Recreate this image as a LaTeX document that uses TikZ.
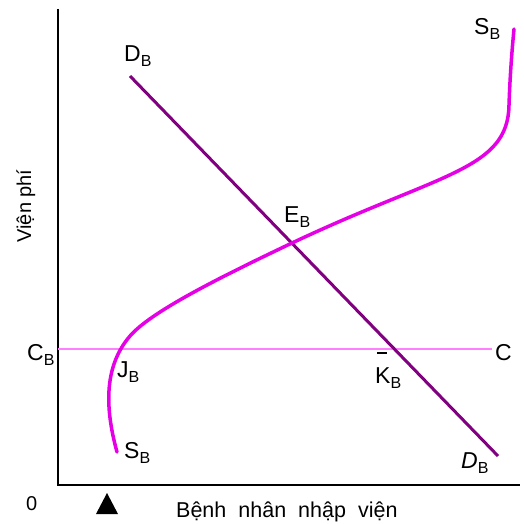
\documentclass[tikz,border=0pt]{standalone}
\usepackage{fontspec}
\setmainfont{Liberation Sans}
\newcommand\lbsub[1]{\raisebox{-5pt}{\fontsize{16}{16}\selectfont #1}}
\tikzset{
  axisline/.style={line width=2pt, black},
  demand/.style={line width=3pt, color={rgb,255:red,128;green,0;blue,128}},
  supply/.style={line width=3.5pt, color={rgb,255:red,230;green,0;blue,230}, line cap=round},
  costline/.style={line width=1.5pt, color={rgb,255:red,255;green,128;blue,255}},
  lbl/.style={inner sep=0pt, font=\fontsize{23}{23}\selectfont},
  ttl/.style={inner sep=0pt, font=\fontsize{20}{20}\selectfont}
}
\begin{document}
\begin{tikzpicture}[x=1pt,y=-1pt]
\useasboundingbox (0,0) rectangle (523,524);
% axes
\coordinate (top) at (58,9);
\coordinate (orig) at (58,485);
\coordinate (xend) at (520,485);
\draw[axisline] (top) -- (orig) -- (xend);
% cost line
\coordinate (c0) at (58,349);
\coordinate (c1) at (492,349);
\draw[costline] (c0) -- (c1);
% demand
\coordinate (d0) at (130,76);
\coordinate (d1) at (498,456);
\draw[demand] (d0) -- (d1);
% supply curve
\coordinate (s0) at (117,452);
\coordinate (s1) at (130,336);
\coordinate (s2) at (292,243);
\coordinate (s4) at (509,105);
\coordinate (s5) at (514,29);
\draw[supply] (s0) .. controls (104,405) and (105,365) .. (s1)
  .. controls (150,313) and (210,282) .. (s2)
  .. controls (440,173) and (508,170) .. (s4)
  .. controls (510,75) and (512,50) .. (s5);
% labels
\node[lbl, anchor=base west] (cb) at (27,360) {C\lbsub{B}};
\node[lbl, anchor=base west] (jb) at (117,377) {J\lbsub{B}};
\node[lbl, anchor=base west] (sb1) at (124,458) {S\lbsub{B}};
\node[lbl, anchor=base west] (db1) at (124,62) {D\lbsub{B}};
\node[lbl, anchor=base west] (sb2) at (474,35) {S\lbsub{B}};
\node[lbl, anchor=base west] (eb) at (284,222) {E\lbsub{B}};
\node[lbl, anchor=base west] (kb) at (375,383) {K\lbsub{B}};
\draw[line width=1.5pt] (377,353) -- (387,353);
\node[lbl, anchor=base west] (cr) at (495,360) {C};
\node[lbl, anchor=base west] (db2) at (461,468) {\textit{D}\lbsub{B}};
\node[ttl, anchor=base west] (zero) at (26,510) {0};
\fill (96,514) -- (118,514) -- (107,493) -- cycle;
\node[ttl, anchor=base west, font=\fontsize{21.5}{22}\selectfont] (xt) at (176,517) {\spaceskip=12pt Bệnh nhân nhập viện};
\node[ttl, rotate=90, anchor=base] (yt) at (31,206) {Viện phí};
\end{tikzpicture}
\end{document}
